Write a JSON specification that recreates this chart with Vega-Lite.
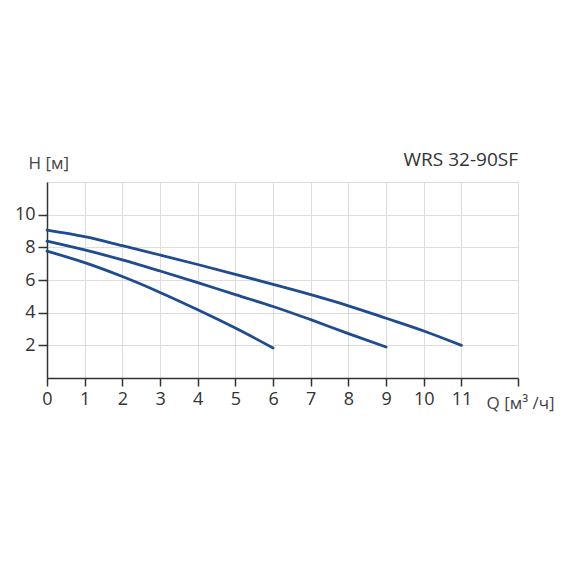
{
  "$schema": "https://vega.github.io/schema/vega-lite/v6.json",
  "width": 471,
  "height": 196,
  "autosize": {"type": "none"},
  "padding": {"left": 47, "top": 182, "right": 52, "bottom": 192},
  "background": "white",
  "config": {
    "font": "Open Sans",
    "view": {"stroke": "#dddddd", "strokeWidth": 1}
  },
  "title": {
    "text": "WRS 32-90SF",
    "anchor": "end",
    "frame": "group",
    "fontSize": 19,
    "fontWeight": "normal",
    "color": "#333333",
    "font": "Open Sans",
    "offset": 12,
    "dy": 28
  },
  "data": {
    "values": [
      {"s": "A", "q": 0, "h": 9.05},
      {"s": "A", "q": 1, "h": 8.65},
      {"s": "A", "q": 2, "h": 8.1},
      {"s": "A", "q": 3, "h": 7.53},
      {"s": "A", "q": 4, "h": 6.95},
      {"s": "A", "q": 5, "h": 6.35},
      {"s": "A", "q": 6, "h": 5.73},
      {"s": "A", "q": 7, "h": 5.1},
      {"s": "A", "q": 8, "h": 4.42},
      {"s": "A", "q": 9, "h": 3.66},
      {"s": "A", "q": 10, "h": 2.88},
      {"s": "A", "q": 11, "h": 2.0},
      {"s": "B", "q": 0, "h": 8.38},
      {"s": "B", "q": 1, "h": 7.84},
      {"s": "B", "q": 2, "h": 7.23},
      {"s": "B", "q": 3, "h": 6.55},
      {"s": "B", "q": 4, "h": 5.84},
      {"s": "B", "q": 5, "h": 5.1},
      {"s": "B", "q": 6, "h": 4.38},
      {"s": "B", "q": 7, "h": 3.57},
      {"s": "B", "q": 8, "h": 2.72},
      {"s": "B", "q": 9, "h": 1.9},
      {"s": "C", "q": 0, "h": 7.77},
      {"s": "C", "q": 1, "h": 7.06},
      {"s": "C", "q": 2, "h": 6.21},
      {"s": "C", "q": 3, "h": 5.24},
      {"s": "C", "q": 4, "h": 4.18},
      {"s": "C", "q": 5, "h": 3.06},
      {"s": "C", "q": 6, "h": 1.84}
    ]
  },
  "mark": {"type": "line", "color": "#1f4b8f", "strokeWidth": 2.8, "interpolate": "monotone", "strokeCap": "round"},
  "encoding": {
    "detail": {"field": "s", "type": "nominal"},
    "x": {
      "field": "q",
      "type": "quantitative",
      "scale": {"domain": [0, 12.5], "nice": false, "zero": false},
      "axis": {
        "values": [0, 1, 2, 3, 4, 5, 6, 7, 8, 9, 10, 11, 12.5],
        "labelExpr": "datum.value > 11.5 ? '' : datum.label",
        "labelFlush": false,
        "grid": true,
        "gridColor": "#dddddd",
        "domainColor": "#333333",
        "domainWidth": 1.5,
        "tickColor": "#333333",
        "tickWidth": 1.5,
        "tickSize": 8,
        "labelFontSize": 18,
        "labelColor": "#333333",
        "labelPadding": 4,
        "labelFont": "Open Sans",
        "title": "Q [м³ /ч]",
        "titleFont": "Open Sans",
        "titleFontSize": 17,
        "titleFontWeight": "normal",
        "titleColor": "#444444",
        "titleAlign": "left",
        "titleBaseline": "alphabetic",
        "titleX": 439,
        "titleY": 30
      }
    },
    "y": {
      "field": "h",
      "type": "quantitative",
      "scale": {"domain": [0, 12], "nice": false},
      "axis": {
        "values": [2, 4, 6, 8, 10],
        "grid": true,
        "gridColor": "#dddddd",
        "domainColor": "#333333",
        "domainWidth": 1.5,
        "tickColor": "#333333",
        "tickWidth": 1.5,
        "tickSize": 9,
        "labelFontSize": 18,
        "labelColor": "#333333",
        "labelPadding": 3,
        "labelFont": "Open Sans",
        "title": "H [м]",
        "titleFont": "Open Sans",
        "titleFontSize": 17,
        "titleFontWeight": "normal",
        "titleColor": "#444444",
        "titleAngle": 0,
        "titleAlign": "left",
        "titleBaseline": "alphabetic",
        "titleX": -19,
        "titleY": -14
      }
    }
  }
}
